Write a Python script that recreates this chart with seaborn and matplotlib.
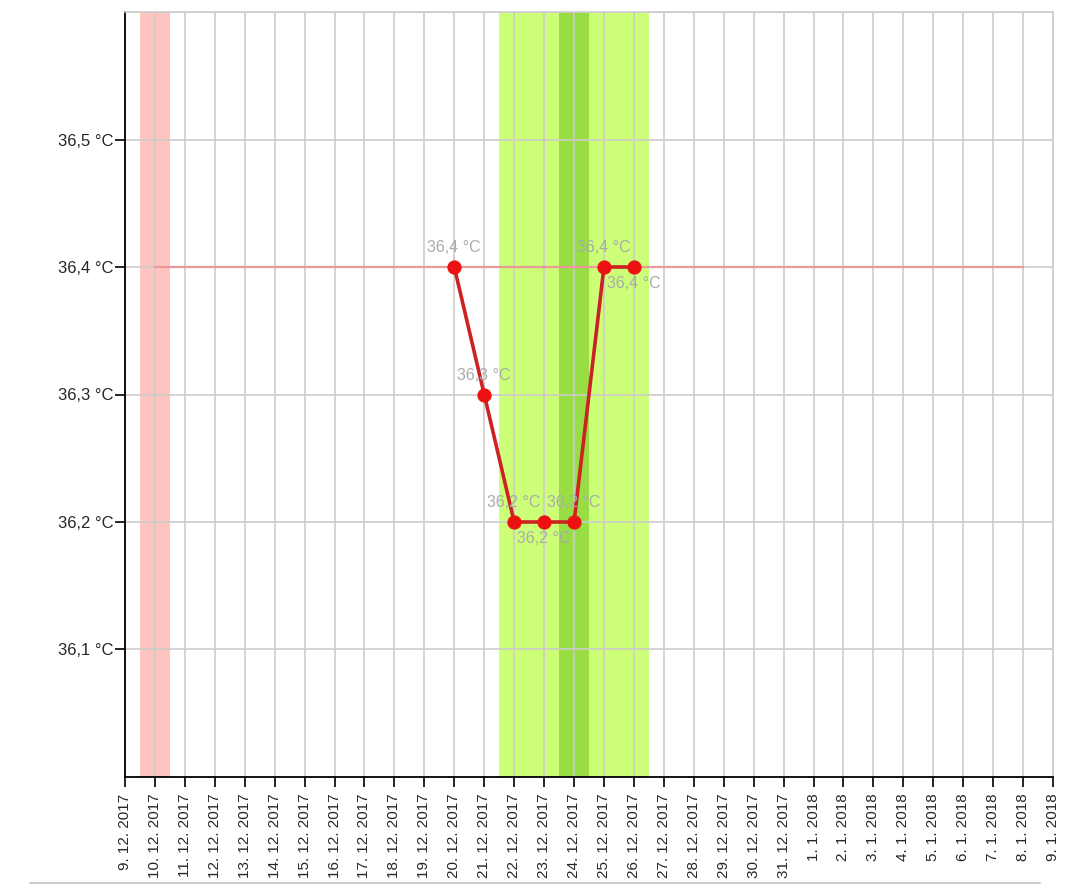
import matplotlib
matplotlib.use("Agg")
import matplotlib.pyplot as plt
import seaborn as sns
import pandas as pd

# ---- data ----
measure_dates = ["2017-12-20", "2017-12-21", "2017-12-22", "2017-12-23",
                 "2017-12-24", "2017-12-25", "2017-12-26"]
measure_temps = [36.4, 36.3, 36.2, 36.2, 36.2, 36.4, 36.4]
label_above = [True, True, True, False, True, True, False]

baseline_dates = ["2017-12-10", "2018-01-08"]
baseline_temps = [36.4, 36.4]

period_band = ["2017-12-09 12:00", "2017-12-10 12:00"]        # pink band
fertile_band = ["2017-12-21 12:00", "2017-12-26 12:00"]       # light green band
ovulation_band = ["2017-12-23 12:00", "2017-12-24 12:00"]     # dark green band

x_start, x_end = "2017-12-09", "2018-01-09"
y_ticks = [36.1, 36.2, 36.3, 36.4, 36.5]
y_min, y_max = 36.0, 36.6

# ---- figure ----
sns.set_style("white")
plt.rcParams['font.family'] = ['Liberation Sans', 'DejaVu Sans']
fig = plt.figure(figsize=(10.69, 8.86), dpi=100)
ax = fig.add_axes([125/1069, 1 - 777/886, (1053-125)/1069, (777-12)/886])

df = pd.DataFrame({"date": pd.to_datetime(measure_dates), "temp": measure_temps})
bl = pd.DataFrame({"date": pd.to_datetime(baseline_dates), "temp": baseline_temps})

ax.axvspan(pd.Timestamp(period_band[0]), pd.Timestamp(period_band[1]),
           color="#ffc4c0", zorder=0, lw=0)
ax.axvspan(pd.Timestamp(fertile_band[0]), pd.Timestamp(fertile_band[1]),
           color="#ccff77", zorder=0, lw=0)
ax.axvspan(pd.Timestamp(ovulation_band[0]), pd.Timestamp(ovulation_band[1]),
           color="#99dd44", zorder=0, lw=0)

xt = pd.date_range(x_start, x_end, freq="D")
for d in xt:
    ax.axvline(d, color="#cccccc", lw=1.2, zorder=1)
for y in y_ticks:
    ax.axhline(y, color="#cccccc", lw=1.2, zorder=1)
ax.axhline(y_max, color="#cccccc", lw=1.2, zorder=1)

sns.lineplot(data=bl, x="date", y="temp", ax=ax, color="#e89a9a", lw=1.6,
             zorder=2, legend=False)
sns.lineplot(data=df, x="date", y="temp", ax=ax, color="#cc2222", lw=2.6,
             marker="o", markersize=9.5, markerfacecolor="#ee1111",
             markeredgecolor="#ee1111", zorder=3, legend=False)

for d, t, above in zip(df["date"], df["temp"], label_above):
    txt = f"{t:.1f}".replace(".", ",") + " °C"
    off = 14 if above else -12
    ax.annotate(txt, (d, t), xytext=(0, off), textcoords="offset points",
                ha="center", va="center", color="#aaaaaa", fontsize=11.5, zorder=4)

ax.set_xlim(pd.Timestamp(x_start), pd.Timestamp(x_end))
ax.set_ylim(y_min, y_max)
ax.set_xticks(xt)
ax.set_xticklabels([f"{d.day}. {d.month}. {d.year}" for d in xt], rotation=90,
                   fontsize=11)
ax.set_yticks(y_ticks)
ax.set_yticklabels([f"{y:.1f}".replace(".", ",") + " °C" for y in y_ticks],
                   fontsize=12)
ax.set_xlabel("")
ax.set_ylabel("")
ax.tick_params(axis="both", direction="out", length=7, width=1.2, color="black",
               bottom=True, left=True)
ax.tick_params(axis="x", pad=5)
ax.tick_params(axis="y", pad=1)
for s in ["top", "right"]:
    ax.spines[s].set_visible(True)
    ax.spines[s].set_color("#cccccc")
    ax.spines[s].set_linewidth(1.2)
for s in ["left", "bottom"]:
    ax.spines[s].set_color("black")
    ax.spines[s].set_linewidth(1.3)

fig.add_artist(plt.Line2D([30/1069, 1040/1069], [1 - 883/886]*2,
                          color="#cccccc", lw=1.5))

fig.savefig("out.png", dpi=100)
